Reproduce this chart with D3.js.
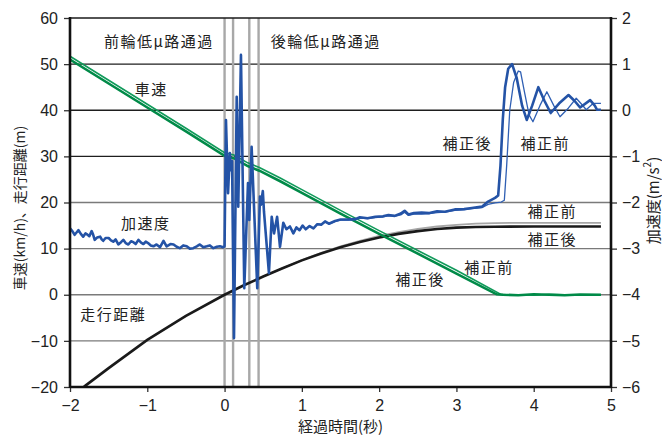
<!DOCTYPE html>
<html>
<head>
<meta charset="utf-8">
<script src="https://cdn.jsdelivr.net/npm/d3@7"></script>
<style>
  html, body { margin: 0; padding: 0; background: #fff; }
  svg { display: block; }
  .jp { font-family: "Noto Sans CJK JP", "Noto Sans", sans-serif; fill: #222; }
  .num { font-family: "Liberation Sans", Arial, sans-serif; fill: #222; }
</style>
</head>
<body>
<svg id="chart" width="662" height="441"></svg>
<script>
// Time axis (s) and value ranges
const xTicks = [-2, -1, 0, 1, 2, 3, 4, 5];
const leftTicks = [60, 50, 40, 30, 20, 10, 0, -10, -20];
const rightTicks = [2, 1, 0, -1, -2, -3, -4, -5, -6];
const darkGrid = [50, 40, 30];
const lightGrid = [20, 10, 0, -10];

// Low-friction section boundaries (s)
const lowMuMarks = [0, 0.11, 0.32, 0.44];

// Vehicle speed (km/h), corrected
const speedAfterT = [-2, -1.5, -1, -0.5, 0, 0.12, 0.3, 0.45, 0.72, 1, 1.5, 2, 2.5, 3, 3.52, 3.6, 3.8, 4.0, 4.2, 4.4, 4.6, 4.87];
const speedAfterV = [51.0, 45.8, 40.6, 35.4, 30.1, 29.6, 27.9, 26.9, 24.6, 22.1, 17.6, 13.2, 8.9, 4.6, 0.1, 0.0, -0.1, 0.1, 0.0, -0.1, 0.05, 0.0];
// Vehicle speed (km/h), uncorrected
const speedBeforeT = [-2, -1.5, -1, -0.5, 0, 0.12, 0.3, 0.45, 0.72, 1, 1.5, 2, 2.5, 3, 3.57, 3.65, 3.8, 4.0, 4.2, 4.4, 4.6, 4.87];
const speedBeforeV = [51.7, 46.5, 41.3, 36.1, 30.8, 30.3, 28.6, 27.6, 25.3, 22.8, 18.3, 13.9, 9.6, 5.3, 0.1, 0.0, 0.0, -0.1, 0.1, 0.0, 0.0, 0.0];

// Travel distance (m), corrected
const distAfterT = [-2, -1.8, -1.5, -1, -0.5, 0, 0.25, 0.5, 0.75, 1, 1.25, 1.5, 1.75, 2, 2.25, 2.5, 2.75, 3, 3.25, 3.5, 4, 4.87];
const distAfterV = [-22.5, -19.7, -15.9, -9.8, -4.6, 0, 2.05, 3.95, 5.75, 7.45, 8.95, 10.3, 11.45, 12.4, 13.2, 13.8, 14.25, 14.55, 14.7, 14.75, 14.8, 14.8];
// Travel distance (m), uncorrected
const distBeforeT = [0.5, 0.75, 1, 1.25, 1.5, 1.75, 2, 2.25, 2.5, 2.75, 3, 3.25, 3.5, 4, 4.87];
const distBeforeV = [3.95, 5.75, 7.5, 9.1, 10.5, 11.7, 12.75, 13.6, 14.3, 14.8, 15.15, 15.4, 15.55, 15.6, 15.6];

// Longitudinal acceleration (m/s^2), corrected
const accAfterT = [
  -2.00, -1.97, -1.94, -1.91, -1.89, -1.86, -1.83, -1.80, -1.78, -1.75, -1.72, -1.70, -1.68, -1.65,
  -1.61, -1.59, -1.57, -1.54, -1.50, -1.47, -1.44, -1.41, -1.375, -1.34, -1.31, -1.28, -1.245, -1.21,
  -1.18, -1.15, -1.115, -1.08, -1.05, -1.02, -0.99, -0.955, -0.92, -0.88, -0.835, -0.79, -0.75, -0.70,
  -0.66, -0.62, -0.58, -0.535, -0.49, -0.45, -0.405, -0.36, -0.32, -0.275, -0.23, -0.19, -0.145, -0.10,
  -0.06, -0.017, 0.00, 0.018, 0.045, 0.068, 0.085, 0.097, 0.122, 0.157, 0.177, 0.212, 0.255, 0.303,
  0.32, 0.35, 0.423, 0.458, 0.47, 0.495, 0.51, 0.574, 0.61, 0.64, 0.68, 0.717, 0.76, 0.80,
  0.846, 0.89, 0.93, 0.97, 1.01, 1.05, 1.10, 1.15, 1.20, 1.25, 1.30, 1.35, 1.43, 1.50,
  1.60, 1.69, 1.75, 1.85, 1.95, 2.05, 2.12, 2.20, 2.28, 2.33, 2.38, 2.45, 2.55, 2.65,
  2.75, 2.85, 2.98, 3.10, 3.20, 3.33, 3.41, 3.50, 3.54, 3.57, 3.60, 3.63, 3.67, 3.72,
  3.78, 3.85, 3.91, 3.98, 4.06, 4.14, 4.22, 4.33, 4.45, 4.53, 4.60, 4.73, 4.79, 4.82, 4.87
];
const accAfterV = [
  -2.56, -2.62, -2.70, -2.64, -2.60, -2.68, -2.74, -2.67, -2.69, -2.73, -2.62, -2.70, -2.81, -2.76,
  -2.74, -2.80, -2.83, -2.77, -2.77, -2.82, -2.85, -2.80, -2.91, -2.86, -2.81, -2.88, -2.91, -2.84,
  -2.86, -2.90, -2.81, -2.87, -2.90, -2.85, -2.88, -2.93, -2.95, -2.91, -2.97, -2.83, -2.95, -2.90,
  -2.91, -2.96, -2.99, -2.93, -2.95, -3.00, -2.99, -2.95, -2.91, -2.97, -2.95, -2.93, -2.99, -2.96,
  -2.95, -2.97, -2.95, -0.21, -1.80, -0.93, -1.30, -1.10, -4.94, 0.29, -2.09, 1.20, -3.86, -1.58,
  -2.38, -0.79, -3.86, -1.87, -2.05, -1.75, -2.20, -3.53, -2.31, -2.67, -2.31, -2.96, -2.44, -2.58,
  -2.52, -2.67, -2.54, -2.60, -2.50, -2.58, -2.51, -2.56, -2.47, -2.48, -2.41, -2.46, -2.40, -2.37,
  -2.37, -2.36, -2.32, -2.34, -2.31, -2.30, -2.27, -2.29, -2.24, -2.18, -2.26, -2.23, -2.22, -2.23,
  -2.19, -2.20, -2.15, -2.14, -2.12, -2.09, -1.98, -1.90, -1.85, -1.20, -0.20, 0.50, 0.90, 1.00,
  0.70, 0.10, -0.21, 0.10, 0.50, 0.20, -0.06, 0.15, 0.33, 0.20, 0.06, 0.22, 0.10, 0.01, 0.01
];

// Longitudinal acceleration (m/s^2), uncorrected
const accBeforeT = [
  0.80, 0.846, 0.89, 0.93, 0.97, 1.01, 1.05, 1.10, 1.15, 1.20, 1.25, 1.30, 1.35, 1.43, 1.50,
  1.60, 1.69, 1.75, 1.85, 1.95, 2.05, 2.12, 2.20, 2.28, 2.33, 2.38, 2.45, 2.55, 2.65,
  2.75, 2.85, 2.98, 3.10, 3.20, 3.33, 3.41, 3.50, 3.58, 3.62, 3.65, 3.69, 3.74, 3.80, 3.83,
  3.88, 3.94, 3.99, 4.08, 4.17, 4.26, 4.34, 4.45, 4.55, 4.62, 4.68, 4.75, 4.79, 4.87
];
const accBeforeV = [
  -2.58, -2.52, -2.67, -2.54, -2.60, -2.50, -2.58, -2.51, -2.56, -2.47, -2.48, -2.42, -2.47, -2.41, -2.38,
  -2.38, -2.37, -2.34, -2.35, -2.33, -2.31, -2.29, -2.30, -2.27, -2.21, -2.28, -2.25, -2.25, -2.24,
  -2.22, -2.21, -2.17, -2.16, -2.13, -2.11, -2.04, -2.01, -1.99, -1.95, -1.20, 0.00, 0.60, 0.85, 0.83,
  0.40, -0.10, -0.25, 0.10, 0.40, 0.10, -0.14, 0.05, 0.26, 0.13, 0.01, 0.12, 0.15, 0.15
];

// Layout
const W = 662, H = 441;
const m = { left: 70, right: 51, top: 18, bottom: 54 };
const x0 = m.left, x1 = W - m.right, y0 = m.top, y1 = H - m.bottom;

const x = d3.scaleLinear().domain([-2, 5]).range([x0, x1]);
const yL = d3.scaleLinear().domain([-20, 60]).range([y1, y0]);
const yR = d3.scaleLinear().domain([-6, 2]).range([y1, y0]);

const svg = d3.select("#chart");
svg.append("rect").attr("width", W).attr("height", H).attr("fill", "#fff");

svg.append("defs").append("clipPath").attr("id", "plot")
  .append("rect").attr("x", x0).attr("y", y0).attr("width", x1 - x0).attr("height", y1 - y0);

// Horizontal grid
svg.append("g").selectAll("line").data(darkGrid).join("line")
  .attr("x1", x0).attr("x2", x1).attr("y1", d => yL(d)).attr("y2", d => yL(d))
  .attr("stroke", "#1e1e1e").attr("stroke-width", 1.3);
svg.append("g").selectAll("line").data(lightGrid).join("line")
  .attr("x1", x0).attr("x2", x1).attr("y1", d => yL(d)).attr("y2", d => yL(d))
  .attr("stroke", "#7a7a7a").attr("stroke-width", 1.3);

// Low-friction road markers
svg.append("g").selectAll("line").data(lowMuMarks).join("line")
  .attr("x1", d => x(d)).attr("x2", d => x(d)).attr("y1", y0).attr("y2", y1)
  .attr("stroke", "#a8a8a8").attr("stroke-width", 2.4);

const plot = svg.append("g").attr("clip-path", "url(#plot)");
const lineL = d3.line().x(d => x(d[0])).y(d => yL(d[1]));
const lineR = d3.line().x(d => x(d[0])).y(d => yR(d[1]));
const zip = (t, v) => t.map((d, i) => [d, v[i]]);

// Distance
plot.append("path").datum(zip(distBeforeT, distBeforeV)).attr("d", lineL)
  .attr("fill", "none").attr("stroke", "#a6a6a6").attr("stroke-width", 1.8);
plot.append("path").datum(zip(distAfterT, distAfterV)).attr("d", lineL)
  .attr("fill", "none").attr("stroke", "#1a1a1a").attr("stroke-width", 2.6);

// Speed
plot.append("path").datum(zip(speedBeforeT, speedBeforeV)).attr("d", lineL)
  .attr("fill", "none").attr("stroke", "#109a5a").attr("stroke-width", 1.6);
plot.append("path").datum(zip(speedAfterT, speedAfterV)).attr("d", lineL)
  .attr("fill", "none").attr("stroke", "#008a48").attr("stroke-width", 2.6);

// Acceleration
plot.append("path").datum(zip(accBeforeT, accBeforeV)).attr("d", lineR)
  .attr("fill", "none").attr("stroke", "#2f5fb3").attr("stroke-width", 1.3).attr("stroke-linejoin", "round");
plot.append("path").datum(zip(accAfterT, accAfterV)).attr("d", lineR)
  .attr("fill", "none").attr("stroke", "#2453a6").attr("stroke-width", 2.6).attr("stroke-linejoin", "round");

// Frame
svg.append("line").attr("x1", x0).attr("x2", x1).attr("y1", y0).attr("y2", y0)
  .attr("stroke", "#1a1a1a").attr("stroke-width", 1.6);

// Axes
const styleAxis = g => {
  g.select(".domain").remove();
  g.selectAll(".tick line").attr("stroke", "#333").attr("stroke-width", 1.3);
  g.selectAll(".tick text").attr("class", "num").attr("font-size", 16);
};
const intFmt = d3.format("d");
svg.append("g").attr("transform", `translate(${x0},0)`)
  .call(d3.axisLeft(yL).tickValues(leftTicks).tickFormat(intFmt).tickSize(6).tickPadding(6)).call(styleAxis);
svg.append("g").attr("transform", `translate(${x1},0)`)
  .call(d3.axisRight(yR).tickValues(rightTicks).tickFormat(intFmt).tickSize(6).tickPadding(5)).call(styleAxis);
svg.append("g").attr("transform", `translate(0,${y1})`)
  .call(d3.axisBottom(x).tickValues(xTicks).tickFormat(intFmt).tickSize(5).tickPadding(8)).call(styleAxis);

svg.append("line").attr("x1", x0).attr("x2", x0).attr("y1", y0 - 1).attr("y2", y1 + 1)
  .attr("stroke", "#111").attr("stroke-width", 2.6);
svg.append("line").attr("x1", x1).attr("x2", x1).attr("y1", y0 - 1).attr("y2", y1 + 1)
  .attr("stroke", "#111").attr("stroke-width", 2.6);
svg.append("line").attr("x1", x0).attr("x2", x1).attr("y1", y1).attr("y2", y1)
  .attr("stroke", "#111").attr("stroke-width", 2.6);

// Axis titles
svg.append("text").attr("class", "jp").attr("font-size", 14)
  .attr("transform", `translate(19,208) rotate(-90)`)
  .attr("text-anchor", "middle").attr("dominant-baseline", "central")
  .text("車速(km/h)、走行距離(m)");
const rt = svg.append("text").attr("class", "jp").attr("font-size", 15)
  .attr("text-anchor", "middle").attr("dominant-baseline", "central")
  .attr("transform", `translate(652,${(y0 + y1) / 2 - 2}) rotate(-90)`);
rt.append("tspan").text("加速度(m/s");
rt.append("tspan").attr("font-size", 10).attr("dy", -6).text("2");
rt.append("tspan").attr("dy", 6).text(")");
svg.append("text").attr("class", "jp").attr("font-size", 15)
  .attr("x", (x0 + x1) / 2).attr("y", 432).attr("text-anchor", "middle")
  .text("経過時間(秒)");

// In-plot annotations: [text, time (s), left-axis value]
const notes = [
  ["前輪低μ路通過", -0.85, 55.2],
  ["後輪低μ路通過", 1.31, 55.2],
  ["車速", -0.95, 44.8],
  ["加速度", -1.02, 15.6],
  ["走行距離", -1.44, -4.0],
  ["補正後", 3.14, 32.9],
  ["補正前", 4.15, 32.9],
  ["補正前", 4.24, 18.2],
  ["補正後", 4.24, 12.3],
  ["補正後", 2.53, 3.6],
  ["補正前", 3.42, 6.2]
];
svg.append("g").selectAll("text").data(notes).join("text")
  .attr("class", "jp").attr("font-size", 15).attr("letter-spacing", 1.5)
  .attr("x", d => x(d[1])).attr("y", d => yL(d[2]))
  .attr("text-anchor", "middle").attr("dominant-baseline", "central")
  .text(d => d[0]);
</script>
</body>
</html>
